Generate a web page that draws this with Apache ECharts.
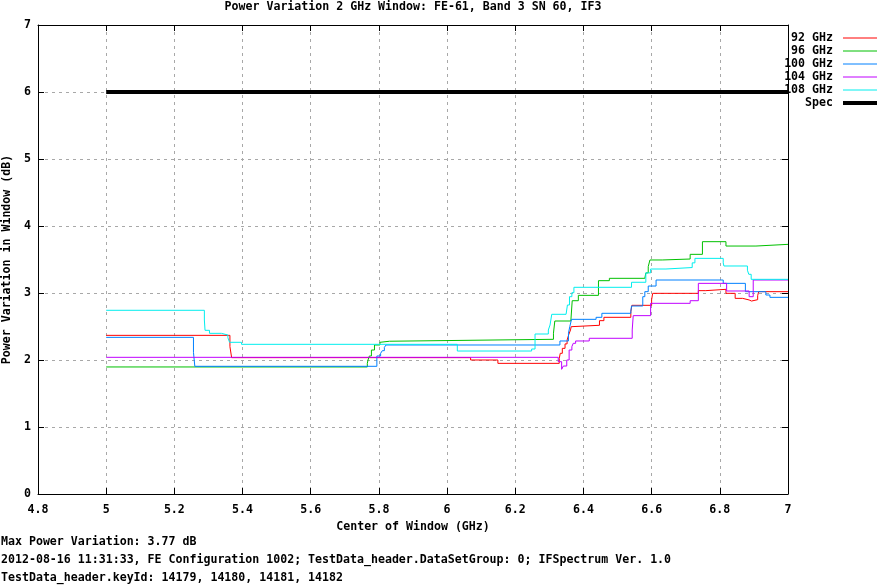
<!DOCTYPE html>
<html>
<head>
<meta charset="utf-8">
<script src="https://cdn.jsdelivr.net/npm/echarts@6/dist/echarts.min.js"></script>
<style>
  html, body { margin: 0; padding: 0; background: #fff; }
  #chart { width: 881px; height: 586px; }
</style>
</head>
<body>
<div id="chart"></div>
<script>
// step breakpoints (x where the value starts)
const seriesNames = ['92 GHz', '96 GHz', '100 GHz', '104 GHz', '108 GHz'];
const seriesColors = ['#ff0000', '#00c000', '#0080ff', '#c000ff', '#00eeee'];

const x92 = [5.0, 5.363, 5.368, 6.069, 6.149, 6.329, 6.332, 6.338, 6.346, 6.352, 6.357, 6.362, 6.364, 6.368, 6.447, 6.46, 6.539, 6.542, 6.6, 6.603, 6.737, 6.759, 6.818, 6.845, 6.867, 6.886, 6.893, 6.911, 6.914, 7.0];
const y92 = [2.368, 2.2, 2.035, 2.0, 1.95, 2.025, 2.1, 2.174, 2.24, 2.298, 2.38, 2.448, 2.497, 2.518, 2.587, 2.637, 2.72, 2.816, 2.9, 2.995, 3.035, 3.055, 2.995, 2.92, 2.896, 2.88, 2.9, 2.96, 3.02, 3.02];

const x96 = [5.0, 5.766, 5.768, 5.772, 5.778, 5.787, 5.803, 5.808, 5.831, 6.312, 6.316, 6.363, 6.367, 6.385, 6.444, 6.476, 6.58, 6.583, 6.59, 6.595, 6.631, 6.713, 6.749, 6.818, 6.906, 7.0];
const y96 = [1.896, 1.95, 2.0, 2.06, 2.149, 2.224, 2.264, 2.28, 2.309, 2.40, 2.582, 2.607, 2.885, 2.965, 3.184, 3.219, 3.244, 3.3, 3.393, 3.493, 3.507, 3.577, 3.766, 3.701, 3.726, 3.726];

const x100 = [5.0, 5.256, 5.26, 5.794, 5.805, 5.81, 5.816, 5.821, 6.331, 6.356, 6.36, 6.365, 6.437, 6.454, 6.539, 6.541, 6.574, 6.58, 6.59, 6.613, 6.81, 6.875, 6.935, 6.947, 7.0];
const y100 = [2.338, 2.115, 1.906, 2.06, 2.1, 2.139, 2.189, 2.224, 2.284, 2.40, 2.50, 2.607, 2.637, 2.697, 2.731, 2.806, 2.945, 3.02, 3.104, 3.194, 3.144, 3.02, 2.97, 2.935, 2.935];

const x104 = [5.0, 6.326, 6.336, 6.341, 6.351, 6.358, 6.366, 6.37, 6.377, 6.417, 6.543, 6.546, 6.597, 6.713, 6.737, 6.82, 6.886, 6.898, 7.0];
const y104 = [2.04, 1.975, 1.861, 1.91, 2.0, 2.149, 2.199, 2.249, 2.284, 2.324, 2.448, 2.662, 2.846, 2.885, 3.144, 3.03, 2.945, 3.194, 3.194];

const x108 = [5.0, 5.288, 5.29, 5.303, 5.338, 5.357, 5.362, 5.397, 6.03, 6.248, 6.258, 6.297, 6.302, 6.307, 6.349, 6.353, 6.359, 6.366, 6.372, 6.541, 6.583, 6.597, 6.642, 6.719, 6.727, 6.81, 6.812, 6.881, 6.885, 6.892, 7.0];
const y108 = [2.742, 2.597, 2.443, 2.398, 2.373, 2.333, 2.264, 2.234, 2.134, 2.164, 2.388, 2.448, 2.522, 2.682, 2.706, 2.821, 2.945, 3.005, 3.085, 3.16, 3.3, 3.358, 3.38, 3.45, 3.517, 3.45, 3.403, 3.34, 3.279, 3.204, 3.204];

const specX = [5, 7];
const specY = [6, 6];

const titleText = 'Power Variation 2 GHz Window: FE-61, Band 3 SN 60, IF3';
const xName = 'Center of Window (GHz)';
const yName = 'Power Variation in Window (dB)';
const footerLines = [
  'Max Power Variation: 3.77 dB',
  '2012-08-16 11:31:33, FE Configuration 1002; TestData_header.DataSetGroup: 0; IFSpectrum Ver. 1.0',
  'TestData_header.keyId: 14179, 14180, 14181, 14182'
];

const FONT = 'DejaVu Sans Mono';
const FS = 11.6;

const xsList = [x92, x96, x100, x104, x108];
const ysList = [y92, y96, y100, y104, y108];

const chartDom = document.getElementById('chart');
const myChart = echarts.init(chartDom, null, { renderer: 'canvas', devicePixelRatio: 1 });

const lineSeries = seriesNames.map((name, k) => ({
  name: name,
  type: 'line',
  step: 'end',
  symbol: 'none',
  color: seriesColors[k],
  lineStyle: { width: 1, color: seriesColors[k] },
  emphasis: { disabled: true },
  data: xsList[k].map((x, i) => [x, ysList[k][i]])
}));

lineSeries.push({
  name: 'Spec',
  type: 'line',
  symbol: 'none',
  color: '#000',
  lineStyle: { width: 4, color: '#000' },
  emphasis: { disabled: true },
  data: specX.map((x, i) => [x, specY[i]])
});

const gridLine = { show: true, lineStyle: { color: '#a8a8a8', type: [3, 4], width: 1 } };
const blackLine = { show: true, onZero: false, lineStyle: { color: '#000', width: 1 } };
const tick = { show: true, inside: true, length: 6, lineStyle: { color: '#000' } };
const labelStyle = { fontFamily: FONT, fontSize: FS, fontWeight: 'bold', color: '#000' };

var option = {
  animation: false,
  backgroundColor: '#fff',
  textStyle: { fontFamily: FONT },
  grid: { left: 38, right: 93, top: 25, bottom: 92, outerBoundsMode: 'none', containLabel: false },
  legend: {
    orient: 'vertical',
    right: 2,
    top: 32,
    padding: 0,
    align: 'right',
    itemWidth: 34,
    itemHeight: 11,
    itemGap: 1,
    selectedMode: false,
    data: seriesNames.concat(['Spec']),
    itemStyle: { opacity: 0 },
    lineStyle: { width: 'inherit' },
    textStyle: Object.assign({ lineHeight: 11, padding: [0, 5, 0, 0] }, labelStyle)
  },
  xAxis: [
    {
      type: 'value', min: 4.8, max: 7, interval: 0.2,
      axisLine: blackLine, axisTick: tick, splitLine: gridLine,
      axisLabel: Object.assign({ margin: 10 }, labelStyle),
      name: xName, nameLocation: 'middle', nameGap: 27,
      nameTextStyle: labelStyle
    },
    {
      type: 'value', position: 'top', min: 4.8, max: 7, interval: 0.2,
      axisLine: blackLine, axisTick: tick, splitLine: { show: false },
      axisLabel: { show: false }
    }
  ],
  yAxis: [
    {
      type: 'value', min: 0, max: 7, interval: 1,
      axisLine: blackLine, axisTick: tick, splitLine: gridLine,
      axisLabel: Object.assign({ margin: 7 }, labelStyle),
      name: yName, nameLocation: 'middle', nameGap: 23,
      nameTextStyle: labelStyle
    },
    {
      type: 'value', position: 'right', min: 0, max: 7, interval: 1,
      axisLine: blackLine, axisTick: tick, splitLine: { show: false },
      axisLabel: { show: false }
    }
  ],
  graphic: [
    {
      type: 'text', x: 413, y: 7,
      style: Object.assign({ text: titleText, align: 'center', verticalAlign: 'middle' }, labelStyle, { fill: '#000' })
    }
  ].concat(footerLines.map((t, i) => ({
    type: 'text', x: 1, y: 542 + i * 18,
    style: Object.assign({ text: t, align: 'left', verticalAlign: 'middle' }, labelStyle, { fill: '#000' })
  }))),
  series: lineSeries
};

option && myChart.setOption(option);
</script>
</body>
</html>
